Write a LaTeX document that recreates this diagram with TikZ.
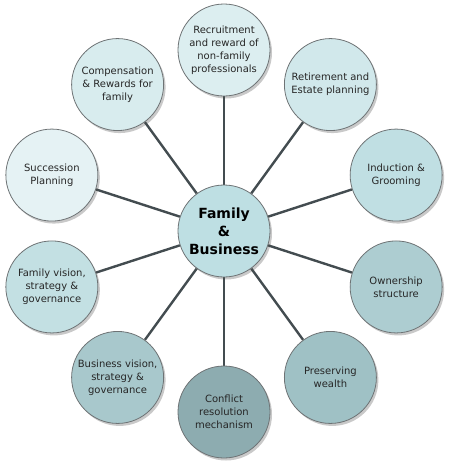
\documentclass[tikz,border=0pt]{standalone}
\usepackage{fontspec}
\setmainfont{DejaVu Sans}
\usetikzlibrary{shadows,backgrounds}

\definecolor{spokegray}{HTML}{434C50}
\definecolor{rimgray}{HTML}{6E7375}
\definecolor{hubfill}{HTML}{BEDFE3}
\definecolor{recruitfill}{HTML}{DCEEF0}
\definecolor{retirefill}{HTML}{D1E8EB}
\definecolor{inductfill}{HTML}{C0DFE3}
\definecolor{ownfill}{HTML}{ADCDD1}
\definecolor{wealthfill}{HTML}{9FC1C5}
\definecolor{conflictfill}{HTML}{8DACB0}
\definecolor{bizfill}{HTML}{A8C8CC}
\definecolor{famfill}{HTML}{C3E0E3}
\definecolor{succfill}{HTML}{E5F2F4}
\definecolor{compfill}{HTML}{D8ECEE}

\begin{document}
\begin{tikzpicture}[x=1pt,y=1pt,
  topic/.style={circle, draw=rimgray, line width=0.8pt, minimum size=92pt,
    inner sep=0pt, align=center, text=black!85,
    font=\fontsize{10}{13}\selectfont,
    drop shadow={shadow xshift=2pt, shadow yshift=-2.5pt, opacity=0.3, fill=black!70}},
  hub/.style={topic, font=\fontsize{14}{18}\selectfont\bfseries, text=black},
  spoke/.style={draw=spokegray, line width=2.4pt}]

% --- Geometry settings ---
\def\R{181}       % distance from hub to each topic circle

\useasboundingbox (0,0) rectangle (450,-466);
\coordinate (c) at (224,-231);

% --- Hub ---
\node[hub, fill=hubfill] (hub) at (c) {Family\\\&\\Business};

% --- Topic circles, clockwise from the top ---
\node[topic, fill=recruitfill]  (recruit)  at ([shift={(90:\R)}]c)  {Recruitment\\and reward of\\non-family\\professionals};
\node[topic, fill=retirefill]   (retire)   at ([shift={(54:\R)}]c)  {Retirement and\\Estate planning};
\node[topic, fill=inductfill]   (induct)   at ([shift={(18:\R)}]c)  {Induction \&\\Grooming};
\node[topic, fill=ownfill]      (own)      at ([shift={(-18:\R)}]c) {Ownership\\structure};
\node[topic, fill=wealthfill]   (wealth)   at ([shift={(-54:\R)}]c) {Preserving\\wealth};
\node[topic, fill=conflictfill] (conflict) at ([shift={(-90:\R)}]c) {Conflict\\resolution\\mechanism};
\node[topic, fill=bizfill]      (biz)      at ([shift={(-126:\R)}]c) {Business vision,\\strategy \&\\governance};
\node[topic, fill=famfill]      (fam)      at ([shift={(-162:\R)}]c) {Family vision,\\strategy \&\\governance};
\node[topic, fill=succfill]     (succ)     at ([shift={(162:\R)}]c) {Succession\\Planning};
\node[topic, fill=compfill]     (comp)     at ([shift={(126:\R)}]c) {Compensation\\\& Rewards for\\family};

% --- Spokes behind the circles ---
\begin{scope}[on background layer]
  \foreach \t in {recruit,retire,induct,own,wealth,conflict,biz,fam,succ,comp} {
    \draw[spoke] (hub) -- (\t);
  }
\end{scope}

\end{tikzpicture}
\end{document}
